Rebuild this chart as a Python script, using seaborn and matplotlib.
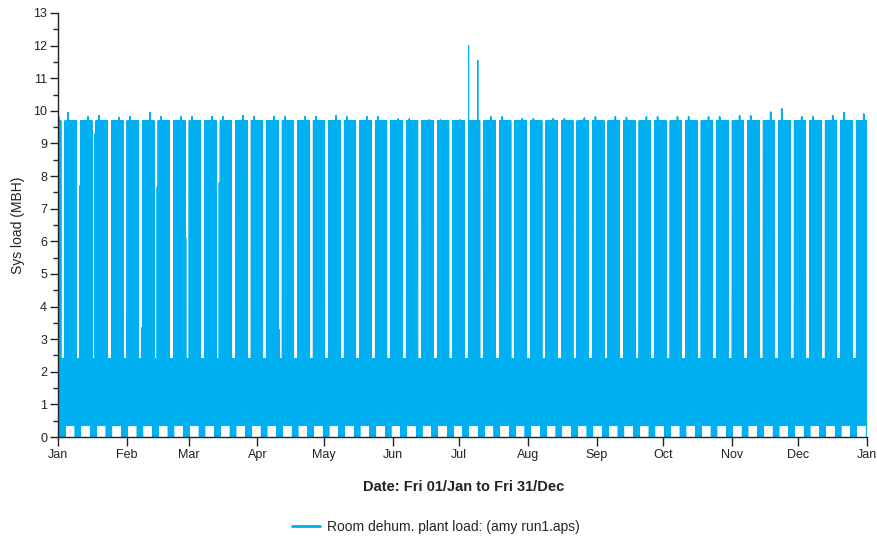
import numpy as np
import pandas as pd
import matplotlib
matplotlib.use("Agg")
import matplotlib.pyplot as plt
from matplotlib.ticker import MultipleLocator
from matplotlib.lines import Line2D
import seaborn as sns

# ---------------------------------------------------------------
# Hourly load profiles of the room dehumidification plant (MBH),
# one value per hour 00:00 .. 23:00
# ---------------------------------------------------------------
monday_load = [0.0, 2.4, 0.4, 1.8, 0.0, 2.3, 9.7, 1.2, 9.7, 0.5, 9.7, 2.1,
               9.7, 0.4, 9.7, 1.6, 9.7, 0.35, 9.7, 2.3, 9.7, 0.8, 9.7, 1.5]
midweek_load = [1.3, 0.4, 2.4, 0.6, 1.9, 0.35, 9.7, 1.2, 9.7, 0.5, 9.7, 2.1,
                9.7, 0.4, 9.7, 1.6, 9.7, 0.35, 9.7, 2.3, 9.7, 0.8, 9.7, 1.5]
friday_load = [1.3, 0.4, 2.4, 0.6, 1.9, 0.35, 9.7, 1.2, 9.7, 0.5, 9.7, 2.1,
               9.7, 0.4, 9.7, 1.6, 9.7, 0.35, 9.7, 0.0, 9.7, 2.2, 9.7, 0.1]
saturday_load = [9.7, 1.8, 9.7, 0.0, 9.7, 2.4, 9.7, 1.9, 0.0, 2.2, 0.5, 1.4,
                 0.0, 2.4, 0.6, 1.7, 0.0, 2.3, 0.4, 1.8, 0.0, 2.4, 0.7, 1.5]
sunday_load = [0.0, 2.4, 0.5, 1.6, 0.0, 2.3, 0.3, 1.9, 0.0, 2.4, 0.6, 1.7,
               0.0, 2.2, 0.4, 2.4, 0.0, 1.8, 0.5, 2.4, 0.0, 2.1, 0.3, 1.6]

# Highest plant load reached in each working week (weeks from Mon 04/Jan)
week_peak = [9.95, 9.82, 9.85, 9.80, 9.82, 9.95, 9.82, 9.82, 9.82, 9.82,
             9.82, 9.85, 9.82, 9.82, 9.82, 9.82, 9.82, 9.85, 9.82, 9.82,
             9.82, 9.75, 9.75, 9.72, 9.72, 9.72, 9.70, 9.82, 9.82, 9.76,
             9.76, 9.76, 9.76, 9.78, 9.82, 9.82, 9.80, 9.82, 9.82, 9.82,
             9.82, 9.82, 9.82, 9.85, 9.85, 9.96, 10.06, 9.82, 9.82, 9.85,
             9.95, 9.90]

# Individual hours that stand apart from the usual weekly pattern
special_times = ["2021-01-01 10:00", "2021-01-10 18:00", "2021-01-17 18:00",
                 "2021-02-07 18:00", "2021-02-14 18:00", "2021-02-27 16:00",
                 "2021-03-14 18:00", "2021-04-10 18:00",
                 "2021-07-05 06:00", "2021-07-09 10:00"]
special_values = [9.82, 7.7, 9.3, 3.35, 7.67, 6.1, 7.8, 3.3, 12.0, 11.55]

series_label = "Room dehum. plant load: (amy run1.aps)"
x_title = "Date: Fri 01/Jan to Fri 31/Dec"
y_title = "Sys load (MBH)"
month_labels = ["Jan", "Feb", "Mar", "Apr", "May", "Jun", "Jul",
                "Aug", "Sep", "Oct", "Nov", "Dec", "Jan"]

line_color = "#00B0F0"
ink = "#222222"

# ---------------------------------------------------------------
# Assemble the hourly series for the year
# ---------------------------------------------------------------
start = pd.Timestamp("2021-01-01 00:00")
days = pd.date_range("2021-01-01", "2021-12-31", freq="D")
by_weekday = {0: monday_load, 1: midweek_load, 2: midweek_load,
              3: midweek_load, 4: friday_load, 5: saturday_load,
              6: sunday_load}
load = np.concatenate([by_weekday[d.dayofweek] for d in days]).astype(float)
times = pd.date_range(start, periods=len(load), freq="h")

first_monday = pd.Timestamp("2021-01-04")
for i, peak in enumerate(week_peak):
    day = first_monday + pd.Timedelta(days=7 * i + (1 if i % 2 == 0 else 3))
    h0 = int((day - start) / pd.Timedelta(hours=1))
    for h in range(h0 + 9, h0 + 15):
        if h < len(load) and load[h] >= 9.7:
            load[h] = peak

for t, v in zip(special_times, special_values):
    idx = int((pd.Timestamp(t) - start) / pd.Timedelta(hours=1))
    load[idx] = v

df = pd.DataFrame({"time": times, "load": load})

# ---------------------------------------------------------------
# Figure
# ---------------------------------------------------------------
sns.set_style("ticks")
plt.rcParams["font.family"] = ["Liberation Sans", "DejaVu Sans"]
plt.rcParams["path.simplify"] = False

fig, ax = plt.subplots(figsize=(8.77, 5.41), dpi=100)
fig.subplots_adjust(left=0.0661, right=0.9886, bottom=0.1922, top=0.976)

sns.lineplot(data=df, x="time", y="load", ax=ax, color=line_color,
             linewidth=0.8, estimator=None, legend=False)

month_starts = pd.date_range("2021-01-01", "2022-01-01", freq="MS")
ax.set_xlim(start, pd.Timestamp("2022-01-01"))
ax.set_xticks(month_starts)
ax.set_xticklabels(month_labels)
ax.set_ylim(0, 13)
ax.yaxis.set_major_locator(MultipleLocator(1))
ax.yaxis.set_minor_locator(MultipleLocator(0.5))

for side in ("top", "right"):
    ax.spines[side].set_visible(False)
for side in ("left", "bottom"):
    ax.spines[side].set_color(ink)
    ax.spines[side].set_linewidth(1.0)

ax.tick_params(axis="y", which="major", length=5.8, width=1.0,
               color=ink, labelsize=9, pad=2, labelcolor=ink)
ax.tick_params(axis="y", which="minor", length=3.6, width=1.0, color=ink)
ax.tick_params(axis="x", which="major", length=6.5, width=1.0,
               color=ink, labelsize=9, pad=2, labelcolor=ink)

ax.set_xlabel("")
ax.set_ylabel(y_title, fontsize=10, color=ink)
ax.yaxis.set_label_coords(-0.041, 0.5)
fig.text(0.5285, 1 - 487 / 541, x_title, ha="center", va="center",
         fontsize=10.5, fontweight="bold", color=ink)

handle = Line2D([], [], color=line_color, linewidth=2.0)
fig.legend([handle], [series_label], loc="center",
           bbox_to_anchor=(0.497, 1 - 527 / 541), frameon=False,
           fontsize=10, handlelength=2.0, handletextpad=0.45)

fig.savefig("out.png", dpi=100)
